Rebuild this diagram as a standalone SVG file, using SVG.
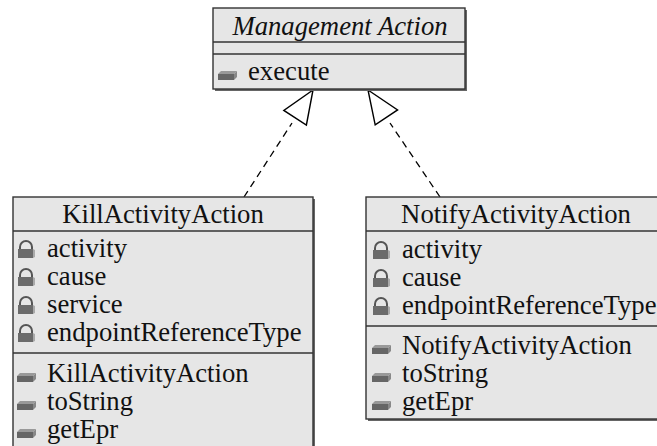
<svg xmlns="http://www.w3.org/2000/svg" width="657" height="446" viewBox="0 0 657 446">
<style>
.box{fill:#e6e6e6;stroke:#333;stroke-width:1.4}
.sh{fill:#666}
.div{stroke:#333;stroke-width:1.4}
text{font-family:"Liberation Serif","Times New Roman",serif;font-size:26.7px;fill:#111}
.t{text-anchor:middle}
.it{font-style:italic}
.dash{fill:none;stroke:#000;stroke-width:1.3;stroke-dasharray:7 5}
.tri{fill:#fff;stroke:#000;stroke-width:1.4}
</style>
<defs>
<g id="lock">
<path d="M3,10 V7 A6,6 0 0 1 15,7 V10" fill="none" stroke="#555" stroke-width="2"/>
<rect x="1" y="9" width="15" height="9" fill="#6b6b6b"/>
<polygon points="16,9 18,10 18,17 16,18" fill="#aaa"/>
</g>
<g id="op">
<polygon points="0,3 3,0 19,0 16,3" fill="#999"/>
<rect x="0" y="3" width="16" height="6" fill="#666"/>
<polygon points="16,3 19,0 19,6 16,9" fill="#888"/>
</g>
</defs>
<g id="connectors">
<line class="dash" x1="244" y1="197" x2="292" y2="123"/>
<polygon class="tri" points="313,90 306.4,125 283.8,110.4"/>
<line class="dash" x1="440" y1="197" x2="390" y2="123"/>
<polygon class="tri" points="368,90 397.6,109.9 375.2,124.9"/>
</g>
<g id="management-action">
<rect class="sh" x="215" y="10" width="252" height="81"/>
<rect class="box" x="213" y="8" width="252" height="81"/>
<line class="div" x1="213" y1="42" x2="465" y2="42"/>
<line class="div" x1="213" y1="54" x2="465" y2="54"/>
<text class="t it" x="340" y="35">Management Action</text>
<use href="#op" x="218" y="71"/>
<text x="248" y="80">execute</text>
</g>
<g id="kill-activity-action">
<rect class="sh" x="15" y="199" width="300" height="260"/>
<rect class="box" x="13" y="197" width="300" height="260"/>
<line class="div" x1="13" y1="231" x2="313" y2="231"/>
<line class="div" x1="13" y1="353" x2="313" y2="353"/>
<text class="t" x="163" y="223">KillActivityAction</text>
<use href="#lock" x="17" y="240"/><text x="47" y="257">activity</text>
<use href="#lock" x="17" y="268"/><text x="47" y="285">cause</text>
<use href="#lock" x="17" y="296"/><text x="47" y="313">service</text>
<use href="#lock" x="17" y="324"/><text x="47" y="341">endpointReferenceType</text>
<use href="#op" x="17" y="373"/><text x="47" y="382">KillActivityAction</text>
<use href="#op" x="17" y="401"/><text x="47" y="410">toString</text>
<use href="#op" x="17" y="429"/><text x="47" y="438">getEpr</text>
</g>
<g id="notify-activity-action">
<rect class="sh" x="368" y="199" width="300" height="222"/>
<rect class="box" x="366" y="197" width="300" height="222"/>
<line class="div" x1="366" y1="231" x2="666" y2="231"/>
<line class="div" x1="366" y1="326" x2="666" y2="326"/>
<text class="t" x="516" y="223">NotifyActivityAction</text>
<use href="#lock" x="372" y="241"/><text x="402" y="258">activity</text>
<use href="#lock" x="372" y="269"/><text x="402" y="286">cause</text>
<use href="#lock" x="372" y="297"/><text x="402" y="314">endpointReferenceType</text>
<use href="#op" x="372" y="345"/><text x="402" y="354">NotifyActivityAction</text>
<use href="#op" x="372" y="373"/><text x="402" y="382">toString</text>
<use href="#op" x="372" y="401"/><text x="402" y="410">getEpr</text>
</g>
</svg>
